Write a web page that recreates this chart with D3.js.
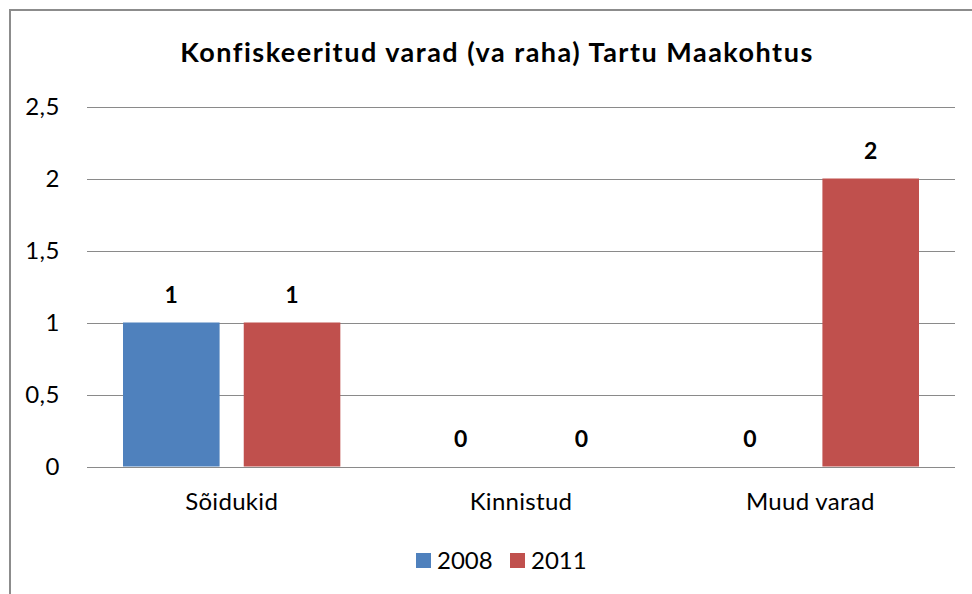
<!DOCTYPE html>
<html>
<head>
<meta charset="utf-8">
<script src="https://cdn.jsdelivr.net/npm/d3@7"></script>
<style>
  body { margin: 0; background: #fff; }
  svg { display: block; font-family: Lato, "Open Sans", sans-serif; }
</style>
</head>
<body>
<div id="chart"></div>
<script>
// chart data
const categories = ['Sõidukid', 'Kinnistud', 'Muud varad'];
const seriesNames = ['2008', '2011'];
const values2008 = [1, 0, 0];
const values2011 = [1, 0, 2];
const yTicks = [0, 0.5, 1, 1.5, 2, 2.5];
const colors = ['#4f81bd', '#c0504d'];

const width = 972, height = 594;
const plot = { left: 87, right: 955, top: 106.5, bottom: 466.5 };

const svg = d3.select('#chart').append('svg')
  .attr('width', width)
  .attr('height', height);

// outer frame (runs off the right and bottom edge like the screenshot)
svg.append('rect')
  .attr('x', 10).attr('y', 10)
  .attr('width', 980).attr('height', 600)
  .attr('fill', 'none')
  .attr('stroke', '#8c8c8c')
  .attr('stroke-width', 2);

svg.append('text')
  .attr('x', 497).attr('y', 62)
  .attr('text-anchor', 'middle')
  .attr('font-size', 27).attr('font-weight', 'bold')
  .attr('letter-spacing', 1.5)
  .attr('fill', '#000')
  .text('Konfiskeeritud varad (va raha) Tartu Maakohtus');

const y = d3.scaleLinear().domain([0, 2.5]).range([plot.bottom, plot.top]);
const x0 = d3.scaleBand().domain(categories).range([plot.left, plot.right]);
const inset = 36;
const x1 = d3.scaleBand().domain(seriesNames)
  .range([inset, x0.bandwidth() - inset])
  .paddingInner(0.2);

const fmt = d => String(d).replace('.', ',');

// gridlines
svg.append('g').selectAll('line')
  .data(yTicks)
  .join('line')
  .attr('x1', plot.left).attr('x2', plot.right)
  .attr('y1', d => Math.round(y(d)) + 0.5).attr('y2', d => Math.round(y(d)) + 0.5)
  .attr('stroke', '#8a8a8a').attr('stroke-width', 1);

// y axis labels
const yAxis = d3.axisLeft(y).tickValues(yTicks).tickFormat(fmt).tickSize(0).tickPadding(27);
const yg = svg.append('g').attr('transform', `translate(${plot.left},0)`).call(yAxis);
yg.select('.domain').remove();
yg.selectAll('text').attr('font-size', 24).attr('font-family', 'Lato, sans-serif').attr('fill', '#000')
  .attr('letter-spacing', 0.5);

// x axis labels
const xAxis = d3.axisBottom(x0).tickSize(0).tickPadding(26);
const xg = svg.append('g').attr('transform', `translate(0,${plot.bottom})`).call(xAxis);
xg.select('.domain').remove();
xg.selectAll('text').attr('font-size', 24).attr('font-family', 'Lato, sans-serif').attr('fill', '#000')
  .attr('letter-spacing', 0.3);

const rows = categories.map((c, i) => ({ cat: c, vals: [values2008[i], values2011[i]] }));

const groups = svg.append('g').selectAll('g')
  .data(rows)
  .join('g')
  .attr('transform', d => `translate(${x0(d.cat)},0)`);

groups.selectAll('rect')
  .data(d => d.vals.map((v, j) => ({ key: seriesNames[j], v, j })))
  .join('rect')
  .attr('x', d => x1(d.key))
  .attr('width', x1.bandwidth())
  .attr('y', d => y(d.v))
  .attr('height', d => y(0) - y(d.v))
  .attr('fill', d => colors[d.j]);

groups.selectAll('text.val')
  .data(d => d.vals.map((v, j) => ({ key: seriesNames[j], v, j })))
  .join('text')
  .attr('class', 'val')
  .attr('x', d => x1(d.key) + x1.bandwidth() / 2)
  .attr('y', d => y(d.v) - 20)
  .attr('text-anchor', 'middle')
  .attr('font-size', 23).attr('font-weight', 'bold')
  .attr('fill', '#000')
  .text(d => fmt(d.v));

// legend
const legendX = [416, 510];
const legend = svg.append('g').selectAll('g')
  .data(seriesNames)
  .join('g')
  .attr('transform', (d, i) => `translate(${legendX[i]},553)`);
legend.append('rect')
  .attr('width', 15).attr('height', 15)
  .attr('fill', (d, i) => colors[i]);
legend.append('text')
  .attr('x', 21).attr('y', 16)
  .attr('font-size', 24)
  .attr('fill', '#000')
  .text(d => d);
</script>
</body>
</html>
